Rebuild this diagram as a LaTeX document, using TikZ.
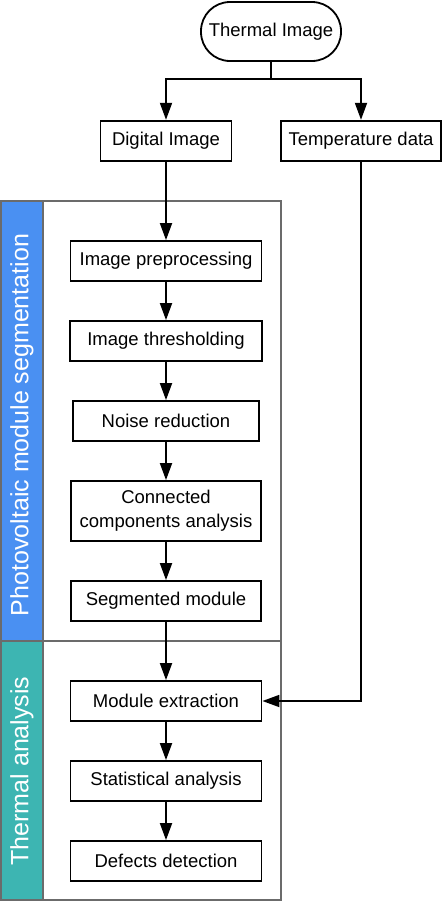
\documentclass[tikz,border=0pt]{standalone}
\usepackage{fontspec}
\setmainfont{Liberation Sans}
\usetikzlibrary{arrows.meta}
\definecolor{bandblue}{HTML}{4A90F2}
\definecolor{bandteal}{HTML}{3DB5B2}
\definecolor{framegray}{HTML}{6B6B6B}
\begin{document}
\begin{tikzpicture}[x=1pt,y=-1pt,
  procbox/.style={draw=black, line width=1.8pt, fill=white, rectangle, inner sep=0pt,
    minimum height=40pt, align=center, font=\fontsize{18.5}{24}\selectfont},
  termbox/.style={procbox, rounded corners=29pt, minimum height=59pt},
  flow/.style={line width=1.8pt, -{Triangle[length=17pt,width=12pt]}},
  plain/.style={line width=1.8pt},
  lanelabel/.style={rotate=90, text=white, font=\fontsize{25}{28}\selectfont, inner sep=0pt},
  frame/.style={draw=framegray, line width=2pt}
]
\useasboundingbox (0,0) rectangle (442,902);
% lanes
\fill[bandblue] (1,201) rectangle (43,641);
\fill[bandteal] (1,641) rectangle (43,900);
\draw[frame] (1,201) rectangle (281,900);
\draw[frame] (43,201) -- (43,900);
\draw[frame] (1,641) -- (281,641);
\node[lanelabel] (lab1) at (22,425) {Photovoltaic module segmentation};
\node[lanelabel] (lab2) at (22,771) {Thermal analysis};
% nodes
\node[termbox, minimum width=140pt] (ti) at (271,31.5) {Thermal Image};
\node[procbox, minimum width=131pt] (di) at (166,140.7) {Digital Image};
\node[procbox, minimum width=160pt] (td) at (361,140.7) {Temperature data};
\node[procbox, minimum width=191pt] (ip) at (166,261) {Image preprocessing};
\node[procbox, minimum width=192pt] (it) at (166,341) {Image thresholding};
\node[procbox, minimum width=186pt] (nr) at (166,421) {Noise reduction};
\node[procbox, minimum width=190pt, minimum height=60pt] (cc) at (166,511) {Connected\\components analysis};
\node[procbox, minimum width=190pt] (sm) at (166,601) {Segmented module};
\node[procbox, minimum width=191pt] (me) at (166,701) {Module extraction};
\node[procbox, minimum width=191pt] (sa) at (166,781) {Statistical analysis};
\node[procbox, minimum width=191pt] (dd) at (166,861) {Defects detection};
% connectors
\coordinate (split) at (271,79);
\draw[plain] (ti.south) -- (split);
\draw[flow] (split) -| (di.north);
\draw[flow] (split) -| (td.north);
\draw[flow] (di.south) -- (ip.north);
\draw[flow] (ip.south) -- (it.north);
\draw[flow] (it.south) -- (nr.north);
\draw[flow] (nr.south) -- (cc.north);
\draw[flow] (cc.south) -- (sm.north);
\draw[flow] (sm.south) -- (me.north);
\draw[flow] (td.south) |- (me.east);
\draw[flow] (me.south) -- (sa.north);
\draw[flow] (sa.south) -- (dd.north);
\end{tikzpicture}
\end{document}
